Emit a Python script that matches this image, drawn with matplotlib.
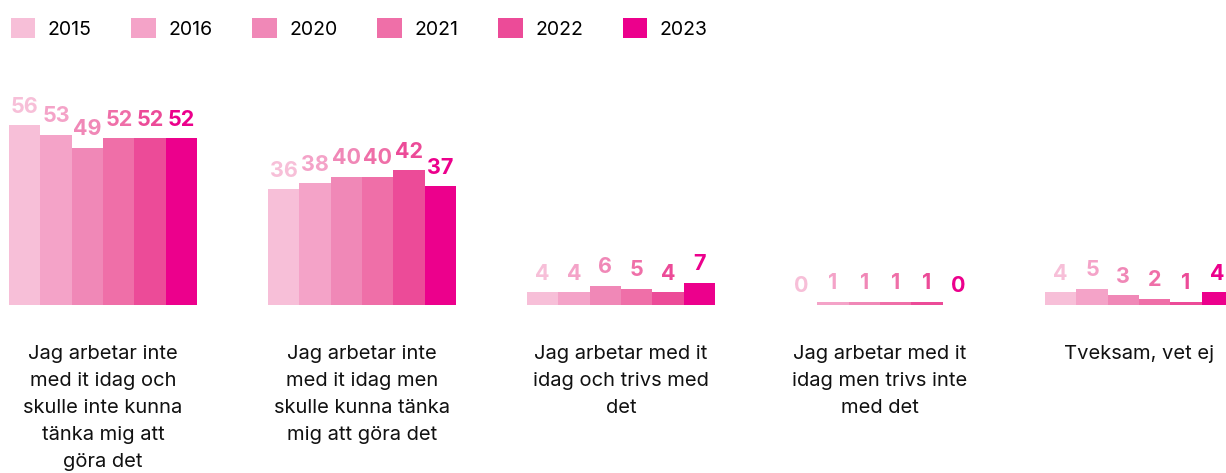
import numpy as np
import matplotlib
matplotlib.use("Agg")
import matplotlib.pyplot as plt

plt.rcParams['font.family'] = ['Inter', 'DejaVu Sans']

# data
categories = [
    "Jag arbetar inte\nmed it idag och\nskulle inte kunna\ntänka mig att\ngöra det",
    "Jag arbetar inte\nmed it idag men\nskulle kunna tänka\nmig att göra det",
    "Jag arbetar med it\nidag och trivs med\ndet",
    "Jag arbetar med it\nidag men trivs inte\nmed det",
    "Tveksam, vet ej",
]
years = ["2015", "2016", "2020", "2021", "2022", "2023"]
v2015 = [56, 36, 4, 0, 4]
v2016 = [53, 38, 4, 1, 5]
v2020 = [49, 40, 6, 1, 3]
v2021 = [52, 40, 5, 1, 2]
v2022 = [52, 42, 4, 1, 1]
v2023 = [52, 37, 7, 0, 4]
series = [v2015, v2016, v2020, v2021, v2022, v2023]
colors = ["#f7bfd8", "#f4a3c8", "#f088b7", "#ef6fa8", "#ec4b98", "#ec008c"]

W, H = 1226, 473
fig = plt.figure(figsize=(W / 100, H / 100), dpi=100)
base_px = 305
ax = fig.add_axes([0, (H - base_px) / H, 1, base_px / H])

x = np.arange(len(categories))
bw = 0.121
handles = []
for k, (vals, col, yr) in enumerate(zip(series, colors, years)):
    pos = x + (k - 2.5) * bw
    b = ax.bar(pos, vals, width=bw, color=col, edgecolor='none', label=yr)
    handles.append(b)
    for px_, v in zip(pos, vals):
        ax.annotate(str(v), (px_, v), xytext=(0, 9), textcoords='offset points',
                    ha='center', va='baseline', fontsize=15.5, fontweight='bold',
                    color=col)

ax.set_xlim(-0.398, -0.398 + W / 259)
ax.set_ylim(0, base_px / 3.21)
ax.axis('off')

for i, lab in enumerate(categories):
    ax.text(i, -40 / base_px, lab, transform=ax.get_xaxis_transform(),
            ha='center', va='top', fontsize=14.5, color='#111111',
            linespacing=1.65)

fig.legend(handles=handles, labels=years, loc='upper left',
           bbox_to_anchor=(3 / W, 1 - 10 / H), ncol=6, frameon=False,
           fontsize=14, handlelength=1.25, handleheight=1.25,
           handletextpad=0.65, columnspacing=2.05, borderaxespad=0)

fig.savefig("out.png", dpi=100)
